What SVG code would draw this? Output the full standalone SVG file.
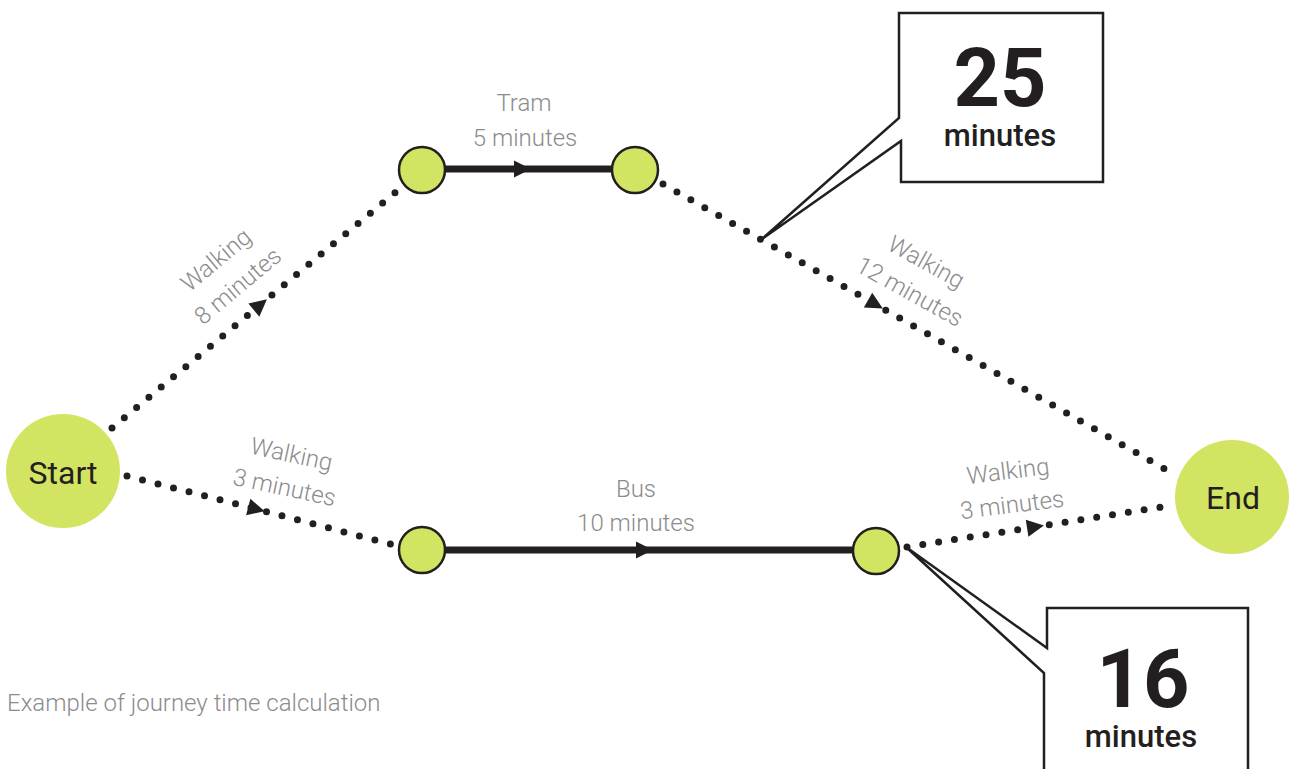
<svg xmlns="http://www.w3.org/2000/svg" width="1290" height="769" viewBox="0 0 1290 769">
<style>
.dot{fill:none;stroke:#231f20;stroke-width:7;stroke-linecap:round;stroke-dasharray:0 16}
.solid{fill:none;stroke:#231f20;stroke-width:7}
.big{fill:#d3e462}
.small{fill:#d3e462;stroke:#231f20;stroke-width:2.5}
.lbl{font-family:Roboto,"Liberation Sans",sans-serif;font-weight:300;font-size:24px;fill:#8c8c8c;text-anchor:middle}
.nt{font-family:Roboto,"Liberation Sans",sans-serif;font-size:32px;fill:#231f20;text-anchor:middle}
.call{fill:#fff;stroke:#231f20;stroke-width:2.5;stroke-linejoin:miter}
.num{font-family:Roboto,"Liberation Sans",sans-serif;font-weight:700;font-size:81px;fill:#231f20;text-anchor:middle}
.min{font-family:Roboto,"Liberation Sans",sans-serif;font-weight:500;font-size:31px;fill:#231f20;text-anchor:middle}
</style>
<defs>
<marker id="arr" markerUnits="userSpaceOnUse" markerWidth="24" markerHeight="24" viewBox="-12 -12 24 24" refX="0" refY="0" orient="auto">
<path d="M-8,-8.5 L9,0 L-8,8.5 z" fill="#231f20"/>
</marker>
</defs>
<rect width="1290" height="769" fill="#fff"/>
<g id="connectors">
<path class="dot" d="M112,428 L260,305 L403,186" marker-mid="url(#arr)"/>
<path class="solid" d="M445,169 L522,169 L613,169" marker-mid="url(#arr)"/>
<path class="dot" d="M663,184 L875,304 L1172,473" marker-mid="url(#arr)"/>
<path class="dot" d="M127,476 L256,509 L398,546" marker-mid="url(#arr)"/>
<path class="solid" d="M445,550 L644,550 L853,550" marker-mid="url(#arr)"/>
<path class="dot" d="M907,547 L1035,527 L1175,505" marker-mid="url(#arr)"/>
</g>
<g id="labels">
<text class="lbl" x="524" y="111">Tram</text>
<text class="lbl" x="525" y="146">5 minutes</text>
<text class="lbl" x="636" y="497">Bus</text>
<text class="lbl" x="636" y="531">10 minutes</text>
<g transform="translate(227,273) rotate(-40)"><text class="lbl" x="0" y="-9">Walking</text><text class="lbl" x="0" y="25">8 minutes</text></g>
<g transform="translate(918,277) rotate(29)"><text class="lbl" x="0" y="-9">Walking</text><text class="lbl" x="0" y="25">12 minutes</text></g>
<g transform="translate(288,471) rotate(12)"><text class="lbl" x="0" y="-9">Walking</text><text class="lbl" x="0" y="25">3 minutes</text></g>
<g transform="translate(1010,488) rotate(-7)"><text class="lbl" x="0" y="-9">Walking</text><text class="lbl" x="0" y="25">3 minutes</text></g>
</g>
<g id="start"><circle class="big" cx="63" cy="471" r="57"/><text class="nt" x="63" y="484">Start</text></g>
<g id="end"><circle class="big" cx="1232" cy="497" r="57"/><text class="nt" x="1233" y="509">End</text></g>
<g id="tram-a"><circle class="small" cx="422" cy="170" r="23"/></g>
<g id="tram-b"><circle class="small" cx="635" cy="170" r="23"/></g>
<g id="bus-a"><circle class="small" cx="422" cy="550" r="23"/></g>
<g id="bus-b"><circle class="small" cx="876" cy="551" r="23"/></g>
<g id="callout-25">
<path class="call" d="M899,13 L1103,13 L1103,182 L901,182 L901,141 L762,239 L899,118 Z"/>
<text class="num" x="1000" y="106">25</text>
<text class="min" x="1000" y="146">minutes</text>
</g>
<g id="callout-16">
<path class="call" d="M1047,608 L1248,608 L1248,780 L1044,780 L1044,673 L906,547 L1047,648 Z"/>
<text class="num" x="1143" y="707">16</text>
<text class="min" x="1141" y="747">minutes</text>
</g>
<text id="caption" x="7" y="711" style="font-family:Roboto,'Liberation Sans',sans-serif;font-weight:300;font-size:24px;fill:#8c8c8c">Example of journey time calculation</text>
</svg>
